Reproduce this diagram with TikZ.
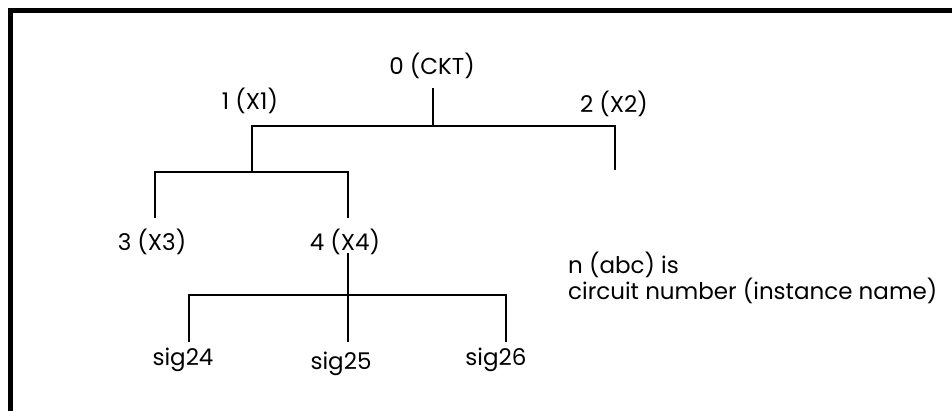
\documentclass[tikz,border=0pt]{standalone}
\usepackage{fontspec}
\setmainfont{Poppins}
\begin{document}
\begin{tikzpicture}[x=1pt,y=-1pt,
  lbl/.style={inner sep=0pt,font=\fontsize{23}{25}\selectfont},
  wire/.style={line width=1.2pt},
  frame/.style={line width=5pt}]
\useasboundingbox (0,0) rectangle (952,411);
\draw[frame] (10,1000) -- (10,10.5) -- (1000,10.5);
% labels
\node[lbl] (n0) at (432,66) {0 (CKT)};
\node[lbl] (n1) at (250,101) {1 (X1)};
\node[lbl] (n2) at (614,104) {2 (X2)};
\node[lbl] (n3) at (152,242) {3 (X3)};
\node[lbl] (n4) at (345,242) {4 (X4)};
\node[lbl] (s24) at (183,360) {sig24};
\node[lbl] (s25) at (341,364) {sig25};
\node[lbl] (s26) at (496,360) {sig26};
\node[lbl,anchor=west,align=left] (note) at (568,278) {n (abc) is\\circuit number (instance name)};
% junction coordinates
\coordinate (t0) at (433,88);
\coordinate (j0) at (433,126);
\coordinate (j0l) at (252,126);
\coordinate (j0r) at (615,126);
\coordinate (e2) at (615,170);
\coordinate (j1) at (252,172);
\coordinate (j1l) at (155,172);
\coordinate (j1r) at (348,172);
\coordinate (e3) at (155,218);
\coordinate (e4) at (348,218);
\coordinate (t4) at (348,253);
\coordinate (j4) at (348,295);
\coordinate (j4l) at (189,295);
\coordinate (j4r) at (506,295);
\coordinate (e24) at (189,342);
\coordinate (e25) at (348,342);
\coordinate (e26) at (506,342);
\draw[wire] (t0) -- (j0);
\draw[wire] (j1) -- (j0l) -- (j0r) -- (e2);
\draw[wire] (e3) -- (j1l) -- (j1r) -- (e4);
\draw[wire] (t4) -- (j4);
\draw[wire] (e24) -- (j4l) -- (j4r) -- (e26);
\draw[wire] (j4) -- (e25);
\end{tikzpicture}
\end{document}
